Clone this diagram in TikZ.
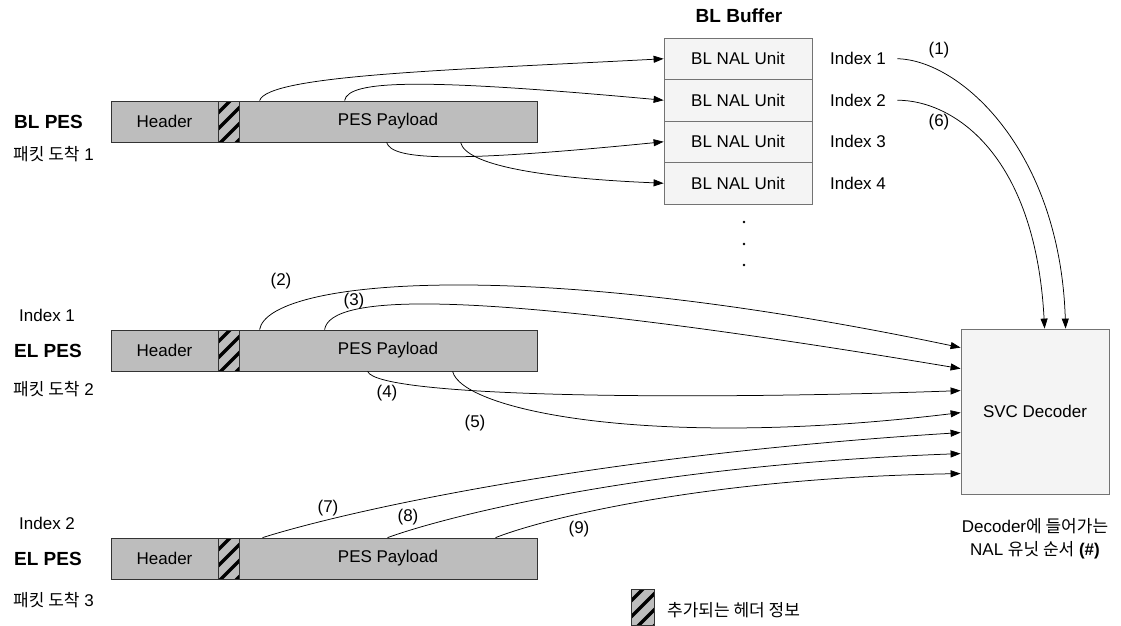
\documentclass[tikz,border=0pt]{standalone}
\usepackage{fontspec}
\setmainfont{Liberation Sans}
\newfontfamily\krfont{Noto Sans CJK KR}
\usetikzlibrary{arrows.meta,calc}
\definecolor{barfill}{gray}{0.74}
\definecolor{boxfill}{gray}{0.955}
\definecolor{edgegray}{gray}{0.45}
\newcommand\myhatch[4]{%
  \begin{scope}
    \fill[barfill] (#1,#2) rectangle (#3,#4);
    \clip (#1,#2) rectangle (#3,#4);
    \foreach \k in {0,1,2,3,4}
      \draw[line width=3.3pt] (#1-4,#2+\k*16) -- ++(34,-34);
  \end{scope}
  \draw[line width=0.8pt,black!80] (#1,#2) rectangle (#3,#4);
}
\begin{document}
\begin{tikzpicture}[x=1pt,y=-1pt,
  font=\fontsize{17}{20}\selectfont,
  bar/.style={draw=black!80,fill=barfill,line width=0.8pt,minimum width=426pt,minimum height=41pt,inner sep=0pt},
  bufrow/.style={draw=edgegray,fill=boxfill,line width=0.8pt,minimum width=148pt,minimum height=41.5pt,inner sep=0pt},
  decbox/.style={draw=edgegray,fill=boxfill,line width=0.8pt,minimum width=148pt,minimum height=165pt,inner sep=0pt},
  big/.style={font=\bfseries\fontsize{19}{22}\selectfont},
  lbl/.style={inner sep=0pt,anchor=west},
  dotnode/.style={circle,fill=black,inner sep=0pt,minimum size=2.6pt},
  conn/.style={-{Triangle[length=10pt,width=7pt]},line width=0.75pt},
]
\useasboundingbox (0,0) rectangle (1121,626);

% ---------- BL PES packet ----------
\node[bar] (blpes) at (324,121.5) {};
\myhatch{218}{101}{239}{142}
\node (blhdr) at (164.5,121.5) {Header};
\node (blpay) at (388,121.5) {PES Payload};
\node[lbl,big] (bllab) at (14,122) {BL PES};
\node[lbl] (blarr) at (13,154) {{\krfont 패킷 도착} 1};

% ---------- EL PES packet 1 ----------
\node[bar] (elA) at (324,350.5) {};
\myhatch{218}{330}{239}{371}
\node (elAhdr) at (164.5,350.5) {Header};
\node (elApay) at (388,350.5) {PES Payload};
\node[lbl] (elAidx) at (19,315) {Index 1};
\node[lbl,big] (elAlab) at (14,351) {EL PES};
\node[lbl] (elAarr) at (13,389) {{\krfont 패킷 도착} 2};

% ---------- EL PES packet 2 ----------
\node[bar] (elB) at (324,558.5) {};
\myhatch{218}{538}{239}{579}
\node (elBhdr) at (164.5,558.5) {Header};
\node (elBpay) at (388,558.5) {PES Payload};
\node[lbl] (elBidx) at (19,523) {Index 2};
\node[lbl,big] (elBlab) at (14,559) {EL PES};
\node[lbl] (elBarr) at (13,600) {{\krfont 패킷 도착} 3};

% ---------- BL Buffer ----------
\node[big] (buftitle) at (739,16) {BL Buffer};
\node[bufrow] (buf1) at (738,58.75) {BL NAL Unit};
\node[bufrow] (buf2) at (738,100.25) {BL NAL Unit};
\node[bufrow] (buf3) at (738,141.75) {BL NAL Unit};
\node[bufrow] (buf4) at (738,183.25) {BL NAL Unit};
\node (idx1) at (858,58.75) {Index 1};
\node (idx2) at (858,100.25) {Index 2};
\node (idx3) at (858,141.75) {Index 3};
\node (idx4) at (858,183.25) {Index 4};
\node[dotnode] (dot1) at (744,222) {};
\node[dotnode] (dot2) at (744,244) {};
\node[dotnode] (dot3) at (744,265) {};

% ---------- SVC Decoder ----------
\node[decbox] (dec) at (1035,411.5) {SVC Decoder};
\node (cap1) at (1035,526) {Decoder{\krfont 에 들어가는}};
\node (cap2) at (1035,550) {NAL {\krfont 유닛 순서} \textbf{(\#)}};

% ---------- legend ----------
\myhatch{631}{589}{654}{625}
\node[lbl] (legtxt) at (667,610) {\krfont 추가되는 헤더 정보};

% ---------- connector end points ----------
\coordinate (b1) at ($(blpes.north west)+(149,0)$);
\coordinate (b2) at ($(blpes.north west)+(234,0)$);
\coordinate (b3) at ($(blpes.south west)+(276,0)$);
\coordinate (b4) at ($(blpes.south west)+(350,0)$);
\coordinate (a2) at ($(elA.north west)+(149,0)$);
\coordinate (a3) at ($(elA.north west)+(214,0)$);
\coordinate (a4) at ($(elA.south west)+(257,0)$);
\coordinate (a5) at ($(elA.south west)+(342,0)$);
\coordinate (c7) at ($(elB.north west)+(152,0)$);
\coordinate (c8) at ($(elB.north west)+(277,0)$);
\coordinate (c9) at ($(elB.north west)+(385,0)$);
\coordinate (din1) at ($(dec.north west)+(0,19)$);
\coordinate (din2) at ($(dec.north west)+(0,40)$);
\coordinate (din3) at ($(dec.north west)+(0,62)$);
\coordinate (din4) at ($(dec.north west)+(0,84)$);
\coordinate (din5) at ($(dec.north west)+(0,104)$);
\coordinate (din6) at ($(dec.north west)+(0,125)$);
\coordinate (din7) at ($(dec.north west)+(0,145)$);
\coordinate (dtop1) at ($(dec.north west)+(84,0)$);
\coordinate (dtop2) at ($(dec.north west)+(105,0)$);
\coordinate (i1s) at ($(idx1.east)+(8,0)$);
\coordinate (i2s) at ($(idx2.east)+(8,0)$);

% ---------- BL PES -> BL Buffer ----------
\draw[conn] (b1) .. controls (268,75) and (450,70) .. (buf1.west);
\draw[conn] (b2) .. controls (348,80) and (420,78) .. (buf2.west);
\draw[conn] (b3) .. controls (392,160) and (450,163) .. (buf3.west);
\draw[conn] (b4) .. controls (466,165) and (540,178) .. (buf4.west);

% ---------- BL Buffer -> Decoder ----------
\draw[conn] (i1s) .. controls (960,60) and (1060,150) .. (dtop2);
\draw[conn] (i2s) .. controls (950,100) and (1035,150) .. (dtop1);
\node (lab1) at (939,50) {(1)};
\node (lab6) at (939,122) {(6)};

% ---------- EL PES 1 -> Decoder ----------
\draw[conn] (a2) .. controls (268,280) and (520,255) .. (din1);
\draw[conn] (a3) .. controls (330,295) and (460,285) .. (din2);
\draw[conn] (a4) .. controls (378,398) and (700,400) .. (din3);
\draw[conn] (a5) .. controls (462,410) and (650,450) .. (din4);
\node (lab2) at (281,281) {(2)};
\node (lab3) at (354,301) {(3)};
\node (lab4) at (387,393) {(4)};
\node (lab5) at (475,423) {(5)};

% ---------- EL PES 2 -> Decoder ----------
\draw[conn] (c7) .. controls (350,510) and (600,455) .. (din5);
\draw[conn] (c8) .. controls (450,515) and (650,465) .. (din6);
\draw[conn] (c9) .. controls (540,520) and (700,478) .. (din7);
\node (lab7) at (328,508) {(7)};
\node (lab8) at (408,517) {(8)};
\node (lab9) at (579,529) {(9)};
\end{tikzpicture}
\end{document}
